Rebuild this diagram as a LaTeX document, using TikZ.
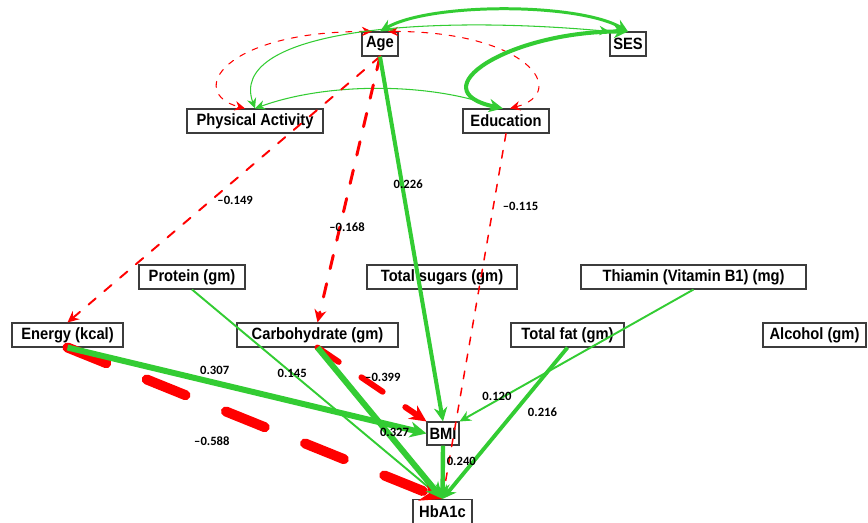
\documentclass[tikz,border=0pt]{standalone}
\usepackage{fontspec}
\usetikzlibrary{arrows.meta}
\newfontfamily\boxfont{Liberation Sans}[FakeStretch=0.9]
\newfontfamily\coeffont{Carlito}
\definecolor{PosClr}{RGB}{51,204,51}
\definecolor{NegClr}{RGB}{255,0,0}
\definecolor{BoxClr}{RGB}{60,60,60}

\begin{document}
\begin{tikzpicture}[
  varbox/.style={draw=BoxClr,line width=0.6pt,minimum height=0.48cm,inner sep=0pt,
    font=\boxfont\bfseries\fontsize{9.3}{11}\selectfont},
  wgt/.style={font=\coeffont\bfseries\fontsize{7.2}{8}\selectfont,inner sep=1pt},
  >={Stealth[length=5pt 1.3,width=4.6pt 1.3]},
  posedge/.style={draw=PosClr,line width=#1,->},
  negedge/.style={draw=NegClr,line width=#1,line cap=round,dash pattern=on 4*#1+1pt off 4*#1+2pt,->},
  covpos/.style={draw=PosClr,line width=#1,<->},
  covneg/.style={draw=NegClr,line width=#1,line cap=round,dash pattern=on 4*#1+1pt off 4*#1+2pt,<->}]

\useasboundingbox (0,0) rectangle (17.36,10.46);

\node[varbox,minimum width=0.72cm] (Age) at (7.60,9.58) {Age};
\node[varbox,minimum width=0.72cm] (SES) at (12.56,9.58) {SES};
\node[varbox,minimum width=2.72cm] (PA) at (5.10,8.04) {Physical Activity};
\node[varbox,minimum width=1.72cm] (Edu) at (10.12,8.04) {Education};

\node[varbox,minimum width=2.12cm] (Protein) at (3.84,4.92) {Protein (gm)};
\node[varbox,minimum width=3.00cm] (Sugars) at (8.84,4.92) {Total sugars (gm)};
\node[varbox,minimum width=4.50cm] (Thiamin) at (13.87,4.92) {Thiamin (Vitamin B1) (mg)};

\node[varbox,minimum width=2.22cm] (Energy) at (1.35,3.76) {Energy (kcal)};
\node[varbox,minimum width=3.22cm] (Carbo) at (6.35,3.76) {Carbohydrate (gm)};
\node[varbox,minimum width=2.26cm] (Fat) at (11.35,3.76) {Total fat (gm)};
\node[varbox,minimum width=2.06cm] (Alcohol) at (16.29,3.76) {Alcohol (gm)};

\node[varbox,minimum width=0.64cm,minimum height=0.46cm] (BMI) at (8.86,1.79) {BMI};
\node[varbox,minimum width=1.18cm] (HbA1c) at (8.85,0.23) {HbA1c};

\draw[covneg=0.6pt] ([xshift=-0.16cm]Age.north) .. controls +(-3,0) and +(-1.16,0.31) .. ([xshift=-0.2cm]PA.north);
\draw[covneg=0.6pt] ([xshift=0.16cm]Age.north) .. controls +(2.8,0) and +(1.2,0.32) .. ([xshift=0.08cm]Edu.north);
\draw[covpos=0.6pt] (PA.north) .. controls +(-0.54,1.5) and +(-4,0.36) .. (SES.north west);
\draw[covpos=0.6pt] (PA.north) to[out=20,in=160,looseness=.8] ([xshift=-0.12cm]Edu.north);
\draw[covpos=1.7pt] (Age.north) to[out=30,in=150,looseness=.6] (SES.north);
\draw[covpos=2.3pt] (SES.north) .. controls +(-2.4,0) and +(-1.7,0.36) .. ([xshift=-0.06cm]Edu.north);

\draw[negedge=1.1pt] (Age.south) -- node[wgt,pos=.54,right=2pt] {–0.149} (Energy.north);
\draw[negedge=1.7pt] (Age.south) -- node[wgt,pos=.64,xshift=4pt] {–0.168} (Carbo.north);
\draw[posedge=2.3pt] (Age.south) -- node[wgt,pos=.35,xshift=3.5pt] {0.226} (BMI.north);
\draw[negedge=0.85pt] (Edu.south) -- node[wgt,pos=.2,right=4pt] {–0.115} (HbA1c.north);

\draw[posedge=1.1pt] (Protein.south) -- node[wgt,pos=.4] {0.145} (HbA1c.north);
\draw[negedge=5.7pt] (Energy.south) -- node[wgt,pos=.385,below=14pt] {–0.588} (HbA1c.north);
\draw[posedge=3.4pt] (Energy.south) -- node[wgt,pos=.41,above=2pt] {0.307} (BMI.west);
\draw[negedge=3.4pt] (Carbo.south) -- node[wgt,pos=.6,above=3pt] {–0.399} (BMI.north west);
\draw[posedge=3.4pt] (Carbo.south) -- node[wgt,pos=.56,xshift=4pt] {0.327} (HbA1c.north);
\draw[posedge=1.1pt] (Thiamin.south) -- node[wgt,pos=.84,yshift=2pt] {0.120} (BMI.north east);
\draw[posedge=2.2pt] (Fat.south) -- node[wgt,pos=.43,right=6pt] {0.216} (HbA1c.north);
\draw[posedge=2.5pt] (BMI.south) -- node[wgt,pos=.3,right] {0.240} (HbA1c.north);

\end{tikzpicture}
\end{document}
